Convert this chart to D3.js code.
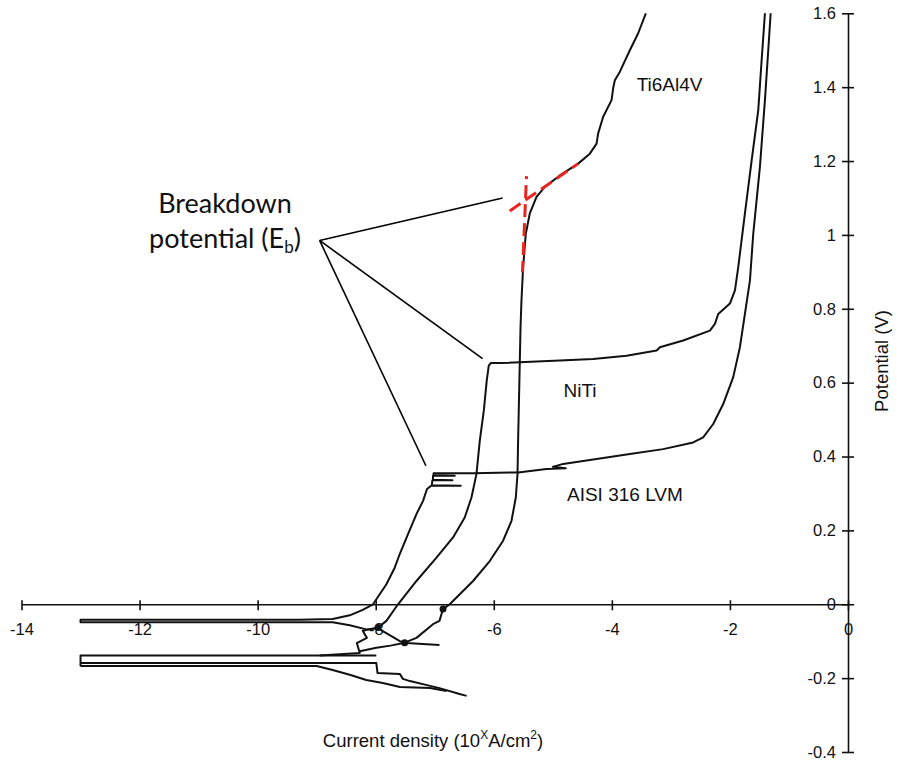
<!DOCTYPE html>
<meta charset="utf-8">
<style>
    html, body { margin: 0; padding: 0; background: #fff; }
    svg { display: block; }
    .axis path, .axis line { stroke: #111; stroke-width: 1.6px; }
    .axis text { font-family: "Liberation Sans", Arial, sans-serif; font-size: 16.5px; fill: #111; }
    .curve { fill: none; stroke: #111; stroke-width: 2px; stroke-linejoin: round; }
    .label { font-family: "Liberation Sans", Arial, sans-serif; font-size: 19px; fill: #111; }
    .title { font-family: "Liberation Sans", Arial, sans-serif; font-size: 18.5px; fill: #111; }
    .callout { stroke: #000; stroke-width: 1.6px; }
    .tangent { stroke: #e8251f; stroke-width: 3px; stroke-dasharray: 13,6; }
    .note { font-family: Lato, "Open Sans", sans-serif; font-size: 27px; fill: #111; }
</style>
<body>
<svg id="chart" width="897" height="763"></svg>
<script src="https://cdn.jsdelivr.net/npm/d3@7"></script>
<script>
// tick values and labels
var xTicks = [-14, -12, -10, -8, -6, -4, -2, 0];
var xTickLabels = ["-14", "-12", "-10", "-8", "-6", "-4", "-2", "0"];
var yTicks = [-0.4, -0.2, 0, 0.2, 0.4, 0.6, 0.8, 1, 1.2, 1.4, 1.6];
var yTickLabels = ["-0.4", "-0.2", "0", "0.2", "0.4", "0.6", "0.8", "1", "1.2", "1.4", "1.6"];

// [log current density, potential V]
var aisi = [
    [-6.92, -0.110], [-7.48, -0.105], [-7.59, -0.100], [-7.96, -0.065], [-8.16, -0.068],
    [-8.44, -0.057], [-8.73, -0.049], [-9.29, -0.049], [-13.0, -0.049], [-13.0, -0.042],
    [-9.29, -0.042], [-8.73, -0.040], [-8.44, -0.030], [-8.22, -0.015], [-8.046, 0],
    [-7.819, 0.054], [-7.678, 0.099], [-7.593, 0.136], [-7.453, 0.190], [-7.310, 0.244],
    [-7.198, 0.280], [-7.131, 0.312], [-7.06, 0.321], [-6.56, 0.321], [-7.05, 0.322],
    [-7.04, 0.336], [-6.70, 0.336], [-7.03, 0.337], [-7.03, 0.348], [-6.66, 0.348],
    [-7.02, 0.349], [-7.02, 0.355], [-6.351, 0.355], [-5.588, 0.357], [-5.107, 0.366],
    [-4.78, 0.368], [-5.00, 0.372], [-4.825, 0.380], [-4.259, 0.393], [-3.695, 0.407],
    [-3.131, 0.420], [-2.622, 0.438], [-2.453, 0.452], [-2.283, 0.488], [-2.114, 0.542],
    [-1.944, 0.615], [-1.831, 0.696], [-1.746, 0.786], [-1.661, 0.877], [-1.605, 1.003],
    [-1.492, 1.184], [-1.407, 1.365], [-1.351, 1.500], [-1.310, 1.600]
];

var niti = [
    [-8.95, -0.139], [-8.27, -0.132], [-8.32, -0.105],
    [-8.15, -0.091], [-8.22, -0.072], [-7.96, -0.063], [-7.819, -0.045], [-7.622, 0],
    [-7.310, 0.063], [-6.971, 0.126], [-6.690, 0.181], [-6.492, 0.235], [-6.378, 0.289],
    [-6.293, 0.353], [-6.237, 0.443], [-6.169, 0.524], [-6.119, 0.606], [-6.085, 0.646],
    [-6.051, 0.653], [-5.898, 0.653], [-4.881, 0.660], [-4.317, 0.664], [-3.751, 0.673],
    [-3.242, 0.687], [-3.186, 0.696], [-2.792, 0.714], [-2.339, 0.741], [-2.254, 0.759],
    [-2.198, 0.786], [-2.000, 0.814], [-1.915, 0.850], [-1.859, 0.913], [-1.746, 1.058],
    [-1.632, 1.202], [-1.520, 1.338], [-1.463, 1.473], [-1.407, 1.600]
];
// top edge of the lower band, closed at its left tip
var bandEdge = [[-7.99, -0.139], [-13.0, -0.139], [-13.0, -0.168]];

var ti = [
    [-8.27, -0.127], [-7.99, -0.118], [-7.75, -0.112], [-7.51, -0.104], [-7.31, -0.091],
    [-7.03, -0.054], [-6.92, -0.045], [-6.86, -0.013], [-6.746, 0], [-6.351, 0.063],
    [-6.068, 0.117], [-5.842, 0.172], [-5.700, 0.226], [-5.627, 0.289], [-5.598, 0.353],
    [-5.588, 0.443], [-5.547, 0.750], [-5.531, 0.823], [-5.503, 0.913], [-5.458, 1.003],
    [-5.390, 1.058], [-5.276, 1.103], [-5.136, 1.130], [-4.881, 1.161], [-4.571, 1.193],
    [-4.373, 1.220], [-4.259, 1.247], [-4.232, 1.275], [-4.147, 1.320], [-4.005, 1.365],
    [-3.978, 1.397], [-3.949, 1.419], [-3.864, 1.442], [-3.695, 1.500], [-3.554, 1.546],
    [-3.424, 1.600]
];

// cathodic tails of the lower band
var tiTailA = [
    [-13.0, -0.159], [-7.99, -0.159], [-7.97, -0.186], [-7.59, -0.189], [-7.54, -0.202],
    [-7.42, -0.208], [-7.08, -0.221], [-6.92, -0.227], [-6.58, -0.243], [-6.46, -0.248]
];
var tiTailB = [
    [-13.0, -0.167], [-9.0, -0.167], [-8.73, -0.178], [-8.44, -0.191], [-8.16, -0.205],
    [-7.88, -0.213], [-7.59, -0.224], [-7.08, -0.227], [-6.80, -0.235]
];

var blobs = [[-7.96, -0.063], [-7.51, -0.104], [-6.86, -0.013]];

var curveLabels = [
    {text: "Ti6Al4V", x: -3.58, v: 1.39},
    {text: "NiTi", x: -4.82, v: 0.56},
    {text: "AISI 316 LVM", x: -4.76, v: 0.28}
];

// breakdown potential annotation
var calloutFrom = [-8.95, 0.985];
var calloutTo = [[-5.85, 1.100], [-6.19, 0.665], [-7.15, 0.375]];
var tangents = [
    [[-5.446, 1.159], [-5.514, 0.899]],
    [[-5.729, 1.065], [-4.571, 1.193]]
];

var svg = d3.select("#chart");

var x = d3.scaleLinear().domain([-14, 0]).range([21.5, 848]);
var y = d3.scaleLinear().domain([-0.4, 1.6]).range([752, 13.3]);

var line = d3.line()
    .x(function(d) { return x(d[0]); })
    .y(function(d) { return y(d[1]); });

// axes
var gx = svg.append("g")
    .attr("class", "axis")
    .attr("transform", "translate(0," + y(0) + ")")
    .call(d3.axisBottom(x).tickValues(xTicks)
        .tickFormat(function(d, i) { return xTickLabels[i]; })
        .tickSizeInner(6).tickSizeOuter(0));
gx.attr("font-family", null).attr("font-size", null);
gx.selectAll(".tick line").attr("y1", -4).attr("y2", 6);
gx.selectAll(".tick text").attr("y", 19);

var gy = svg.append("g")
    .attr("class", "axis")
    .attr("transform", "translate(" + x(0) + ",0)")
    .call(d3.axisLeft(y).tickValues(yTicks)
        .tickFormat(function(d, i) { return yTickLabels[i]; })
        .tickSizeInner(6).tickSizeOuter(0));
gy.attr("font-family", null).attr("font-size", null);
gy.selectAll(".tick line").attr("x1", 6).attr("x2", -6);
gy.selectAll(".tick text").attr("x", -12);

// curves
[aisi, niti, bandEdge, ti, tiTailA, tiTailB].forEach(function(s) {
    svg.append("path").attr("class", "curve").attr("d", line(s));
});

svg.selectAll("circle.blob")
    .data(blobs)
    .enter().append("circle")
    .attr("class", "blob")
    .attr("r", 3.5)
    .attr("cx", function(d) { return x(d[0]); })
    .attr("cy", function(d) { return y(d[1]); })
    .attr("fill", "#111");

svg.selectAll("text.label")
    .data(curveLabels)
    .enter().append("text")
    .attr("class", "label")
    .attr("x", function(d) { return x(d.x); })
    .attr("y", function(d) { return y(d.v); })
    .text(function(d) { return d.text; });

// axis titles
var xt = svg.append("text")
    .attr("class", "title")
    .attr("x", 433)
    .attr("y", 747)
    .attr("text-anchor", "middle");
xt.append("tspan").text("Current density (10");
xt.append("tspan").attr("font-size", "12px").attr("dy", -8).text("X");
xt.append("tspan").attr("dy", 8).text("A/cm");
xt.append("tspan").attr("font-size", "12px").attr("dy", -8).text("2");
xt.append("tspan").attr("dy", 8).text(")");

svg.append("text")
    .attr("class", "title")
    .attr("transform", "translate(888,361) rotate(-90)")
    .attr("text-anchor", "middle")
    .text("Potential (V)");

// breakdown annotation
svg.selectAll("line.callout")
    .data(calloutTo)
    .enter().append("line")
    .attr("class", "callout")
    .attr("x1", x(calloutFrom[0]))
    .attr("y1", y(calloutFrom[1]))
    .attr("x2", function(d) { return x(d[0]); })
    .attr("y2", function(d) { return y(d[1]); });

svg.selectAll("line.tangent")
    .data(tangents)
    .enter().append("line")
    .attr("class", "tangent")
    .attr("stroke-dashoffset", function(d, i) { return i === 0 ? 10 : 0; })
    .attr("x1", function(d) { return x(d[0][0]); })
    .attr("y1", function(d) { return y(d[0][1]); })
    .attr("x2", function(d) { return x(d[1][0]); })
    .attr("y2", function(d) { return y(d[1][1]); });

svg.append("text")
    .attr("class", "note")
    .attr("x", 225).attr("y", 213)
    .attr("text-anchor", "middle")
    .text("Breakdown");
var nt = svg.append("text")
    .attr("class", "note")
    .attr("x", 225).attr("y", 248)
    .attr("text-anchor", "middle");
nt.append("tspan").text("potential (E");
nt.append("tspan").attr("font-size", "17px").attr("dy", 5).text("b");
nt.append("tspan").attr("dy", -5).text(")");
</script>
</body>
